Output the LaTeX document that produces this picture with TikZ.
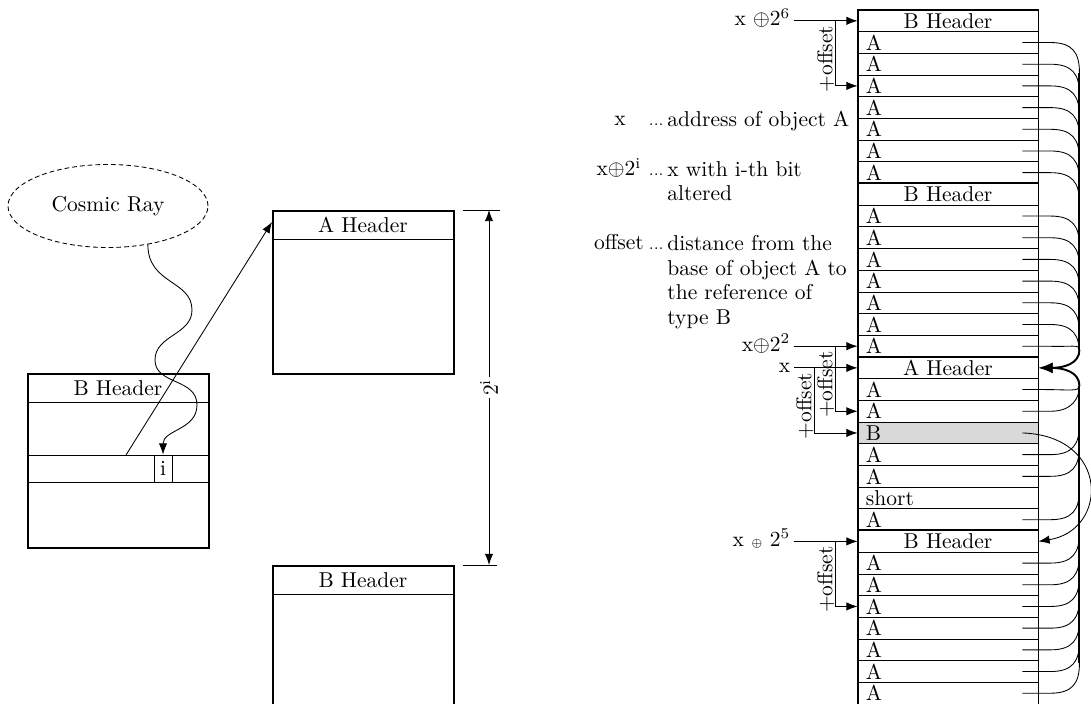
\documentclass[tikz,border=0pt]{standalone}
\usetikzlibrary{calc,shapes.geometric,arrows.meta}
\tikzset{
  tip/.tip={Latex[length=5.2pt,width=3.9pt]},
  bigtip/.tip={Latex[length=6.6pt,width=5pt]},
  rowbase/.style={draw, line width=0.4pt, minimum width=83.7pt, minimum height=10.086pt, inner sep=0pt},
  rowA/.style={rowbase, text width=76.3pt, align=left},
  rowH/.style={rowbase},
  rowG/.style={rowbase, fill=black!15, text width=76.3pt, align=left},
  conn/.style={line width=0.4pt},
  arr/.style={line width=0.4pt, -tip},
  trunk/.style={line width=0.9pt},
  hdr/.style={draw, line width=0.4pt, minimum width=84.165pt, minimum height=13.485pt, inner sep=0pt, anchor=north west},
  objbox/.style={draw, line width=0.85pt, minimum width=84.165pt, inner sep=0pt, anchor=north west},
  lbl/.style={anchor=base east, inner sep=1.5pt},
  offs/.style={rotate=90, anchor=south west, inner sep=0.5pt},
  legend/.style={anchor=north west, inner sep=0pt, align=left, font=\fontsize{10pt}{11.4pt}\selectfont},
}
\begin{document}
\begin{tikzpicture}[x=0.465pt,y=-0.465pt,line width=0.4pt]
\useasboundingbox (0,0) rectangle (1091,704);

% ---------------- left part ----------------
\node[ellipse, draw, dash pattern=on 2.2pt off 1.4pt, minimum width=93pt, minimum height=38.6pt, inner sep=0pt] (cr) at (108,206) {Cosmic Ray};

\node[hdr] (lbh) at (27,373) {B Header};
\node[draw, minimum width=84.165pt, minimum height=12.555pt, inner sep=0pt, anchor=north west] (lbrow) at (27,455) {};
\node[draw, minimum width=8.37pt, minimum height=12.555pt, inner sep=0pt] (ib) at (163,468.5) {i};
\node[objbox, minimum height=80.91pt] (lb) at (27,373) {};

\node[hdr] (abh) at (272,210) {A Header};
\node[objbox, minimum height=75.8pt] (ab) at (272,210) {};

\node[hdr] (bbh) at (272,565) {B Header};
\node[objbox, minimum height=64.6pt] (bb) at (272,565) {};

\coordinate (rs) at ($(lbrow.north west)+(99,0)$);
\coordinate (re) at ($(ab.north west)+(0,12)$);
\draw[arr] (rs) -- (re);

\draw[arr] (cr.-44) .. controls +(0,40) and +(0,-30) .. (192,310)
  .. controls +(0,25) and +(0,-25) .. (155,360)
  .. controls +(0,25) and +(0,-27) .. (197,405)
  .. controls +(0,25) and +(0,-25) .. (ib.north);

\coordinate (dt) at ($(abh.north west)+(217,0)$);
\coordinate (db) at ($(bbh.north west)+(217,0)$);
\draw ($(dt)+(-26,0)$) -- ($(dt)+(11,0)$);
\draw ($(db)+(-26,0)$) -- ($(db)+(8,0)$);
\draw[tip-tip] (dt) -- node[fill=white, rotate=90, inner sep=1pt] (dl) {2\textsuperscript{i}} (db);

% ---------------- legend ----------------
\node[anchor=base, inner sep=0pt] (t1) at (620,126) {x};
\node[anchor=base east, inner sep=0pt] (d1) at (664,126) {\scriptsize...};
\node[legend] (e1) at (667,111) {address of object A};

\node[anchor=base, inner sep=0pt] (t2) at (619,176) {x$\oplus$2\textsuperscript{i}};
\node[anchor=base east, inner sep=0pt] (d2) at (664,176) {\scriptsize...};
\node[legend] (e2) at (667,161) {x with i-th bit\\altered};

\node[anchor=base, inner sep=0pt] (t3) at (619,250) {offset};
\node[anchor=base east, inner sep=0pt] (d3) at (664,250) {\scriptsize...};
\node[legend] (e3) at (667,235) {distance from the\\base of object A to\\the reference of\\type B};

% ---------------- right column ----------------
\foreach \k in {1,2,3,4,5,6,7,9,10,11,12,13,14,15,17,18,20,21,23,25,26,27,28,29,30,31}
  \node[rowA] (r\k) at (948,{10+(\k+0.5)*21.69}) {A};
\node[rowH] (r0)  at (948,{10+0.5*21.69})  {B Header};
\node[rowH] (r8)  at (948,{10+8.5*21.69})  {B Header};
\node[rowH] (r16) at (948,{10+16.5*21.69}) {A Header};
\node[rowG] (r19) at (948,{10+19.5*21.69}) {B};
\node[rowA] (r22) at (948,{10+22.5*21.69}) {short};
\node[rowH] (r24) at (948,{10+24.5*21.69}) {B Header};

\draw[line width=0.85pt] (r0.north west) rectangle (r31.south east);
\draw[line width=0.85pt] (r8.north west) -- (r8.north east);
\draw[line width=0.85pt] (r16.north west) -- (r16.north east);
\draw[line width=0.85pt] (r24.north west) -- (r24.north east);

% references to A header
\coordinate (tj) at ($(r16.east)+(41,-18)$);
\coordinate (bj) at ($(r16.east)+(41,18)$);
\foreach \k in {1,2,3,4,5,6,7,9,10,11,12,13,14}
  \draw[conn] ($(r\k.east)+(-16,0)$) -- ++(28,0) .. controls +(22,0) and +(0,-20) .. ++(29,30) -- (tj);
\draw[conn] ($(r15.east)+(-16,0)$) -- ++(25,0) .. controls +(25,1) and +(0,-6) .. (tj);
\foreach \k in {20,21,23,25,26,27,28,29,30,31}
  \draw[conn] ($(r\k.east)+(-16,0)$) -- ++(28,0) .. controls +(22,0) and +(0,20) .. ++(29,-30) -- (bj);
\draw[conn] ($(r18.east)+(-16,0)$) -- ++(28,0) .. controls +(22,0) and +(0,12) .. (bj);
\draw[conn] ($(r17.east)+(-16,0)$) -- ++(22,0) .. controls +(25,0) and +(0,6) .. (bj);
\draw[trunk] ($(r1.east)+(41,30)$) -- (tj);
\draw[trunk] ($(r31.east)+(41,-30)$) -- (bj);
\draw[trunk,-bigtip] (tj) .. controls +(0,14) and +(25,0) .. (r16.east);
\draw[trunk,-bigtip] (bj) .. controls +(0,-14) and +(25,0) .. (r16.east);

% reference of type B
\draw[arr] ($(r19.east)+(-16,0)$) .. controls +(88,3) and +(70,-11) .. (r24.east);

% address labels
\node[lbl] (l6) at (794,25.9) {x $\oplus$2$^6$};
\draw[arr] (l6.east |- r0.west) -- (r0.west);
\coordinate (o6) at ($(r0.west)+(-22,0)$);
\draw[arr] (o6) |- (r3.west);
\node[offs] (of6) at ($(r3.west)+(-22,8)$) {+offset};

\node[lbl] (l2) at (794,351.2) {x$\oplus$2$^2$};
\draw[arr] (l2.east |- r15.west) -- (r15.west);
\coordinate (o2) at ($(r15.west)+(-22,0)$);
\draw[arr] (o2) |- (r18.west);
\node[offs] (of2) at ($(r18.west)+(-22,8)$) {+offset};

\node[lbl] (lx) at (794,373) {x};
\draw[arr] (lx.east |- r16.west) -- (r16.west);
\coordinate (ox) at ($(r16.west)+(-43,0)$);
\draw[arr] (ox) |- (r19.west);
\node[offs] (ofx) at ($(r19.west)+(-43,8)$) {+offset};

\node[lbl] (l5) at (794,546.4) {x {\tiny$\oplus$} 2$^5$};
\draw[arr] (l5.east |- r24.west) -- (r24.west);
\coordinate (o5) at ($(r24.west)+(-22,0)$);
\draw[arr] (o5) |- (r27.west);
\node[offs] (of5) at ($(r27.west)+(-22,8)$) {+offset};
\end{tikzpicture}
\end{document}
